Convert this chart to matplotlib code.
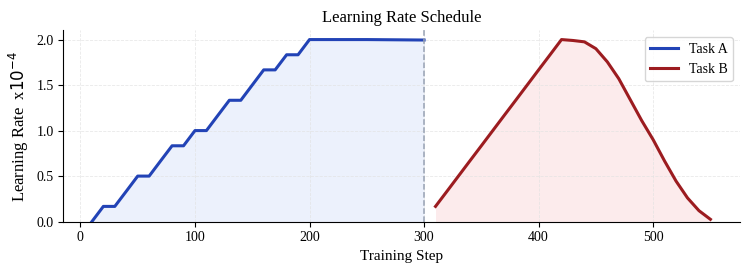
import matplotlib.pyplot as plt

# Task A: stepped warmup then constant
steps_a = [10, 20, 30, 40, 50, 60, 70, 80, 90, 100, 110, 120, 130, 140, 150,
           160, 170, 180, 190, 200, 250, 300]
lr_a = [0.0, 0.167, 0.167, 0.333, 0.5, 0.5, 0.667, 0.833, 0.833, 1.0, 1.0,
        1.167, 1.333, 1.333, 1.5, 1.667, 1.667, 1.833, 1.833, 2.0, 2.0, 1.995]

# Task B: linear warmup then decay
steps_b = [310, 320, 330, 340, 350, 360, 370, 380, 390, 400, 410, 420, 430,
           440, 450, 460, 470, 480, 490, 500, 510, 520, 530, 540, 550]
lr_b = [0.167, 0.333, 0.5, 0.667, 0.833, 1.0, 1.167, 1.333, 1.5, 1.667, 1.833,
        2.0, 1.99, 1.975, 1.90, 1.755, 1.57, 1.34, 1.11, 0.90, 0.665, 0.445,
        0.26, 0.12, 0.025]

switch_step = 300

plt.rcParams['font.family'] = ['Liberation Serif', 'DejaVu Serif']
plt.rcParams['mathtext.fontset'] = 'dejavusans'

fig, ax = plt.subplots(figsize=(7.53, 2.77), dpi=100)

blue = '#2243b6'
red = '#9c1c20'

ax.fill_between(steps_a, lr_a, color='#ecf1fc', linewidth=0)
ax.fill_between(steps_b, lr_b, color='#fcebec', linewidth=0)
ax.plot(steps_a, lr_a, color=blue, lw=2.2, label='Task A')
ax.plot(steps_b, lr_b, color=red, lw=2.2, label='Task B')
ax.axvline(switch_step, color='#98a2b3', ls='--', lw=1.1)

ax.set_xlim(-15, 576)
ax.set_ylim(0, 2.1)
ax.set_xticks([0, 100, 200, 300, 400, 500])
ax.set_yticks([0.0, 0.5, 1.0, 1.5, 2.0])
ax.tick_params(labelsize=10)
ax.grid(True, ls='--', lw=0.6, color='#e3e3e3', alpha=0.8)
ax.spines['top'].set_visible(False)
ax.spines['right'].set_visible(False)

ax.set_title('Learning Rate Schedule', fontsize=12)
ax.set_xlabel('Training Step', fontsize=11)
ax.set_ylabel(r'Learning Rate  x$10^{-4}$', fontsize=12)
ax.legend(loc='upper right', fontsize=10, edgecolor='#cccccc')

plt.subplots_adjust(left=0.084, right=0.983, top=0.89, bottom=0.2)
plt.savefig('out.png')
